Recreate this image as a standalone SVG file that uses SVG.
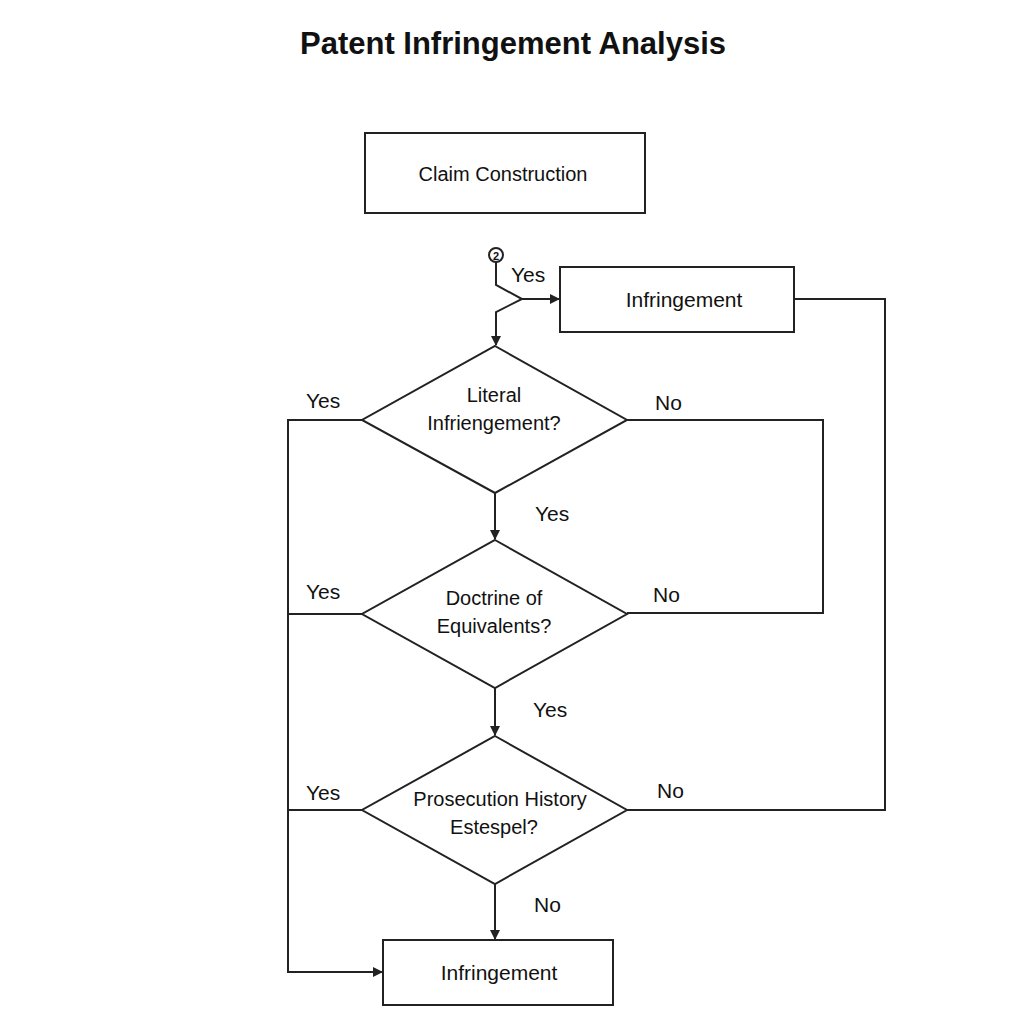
<svg xmlns="http://www.w3.org/2000/svg" width="1024" height="1024" viewBox="0 0 1024 1024">
<style>
text{font-family:"Liberation Sans",Arial,sans-serif;fill:#111;}
.l{font-size:21px}
.n{font-size:20px}
.s{fill:#fff;stroke:#222;stroke-width:2}
.c{fill:none;stroke:#222;stroke-width:2}
</style>
<defs><marker id="a" markerWidth="10" markerHeight="10" refX="9" refY="5" orient="auto" markerUnits="userSpaceOnUse"><path d="M0,0L10,5L0,10z" fill="#222"/></marker></defs>
<rect width="1024" height="1024" fill="#fff"/>
<text x="513" y="54" text-anchor="middle" font-size="31" font-weight="bold">Patent Infringement Analysis</text>
<g id="connectors" class="c">
<circle cx="496" cy="255" r="7"/>
<path d="M496,262V285L522,299L496,312V345" marker-end="url(#a)"/>
<path d="M522,299H559" marker-end="url(#a)"/>
<path d="M495,493V539" marker-end="url(#a)"/>
<path d="M495,688V735" marker-end="url(#a)"/>
<path d="M495,884V939" marker-end="url(#a)"/>
<path d="M362,420H288V972H382" marker-end="url(#a)"/>
<path d="M362,614H288M362,810H288"/>
<path d="M627,420H823V613H627"/>
<path d="M627,810H885V299H794"/>
</g>
<text x="496" y="260" text-anchor="middle" font-size="11" font-weight="bold">2</text>
<g id="claim"><rect class="s" x="365" y="133" width="280" height="80"/><text class="n" x="503" y="181" text-anchor="middle">Claim Construction</text></g>
<g id="inf1"><rect class="s" x="560" y="267" width="234" height="65"/><text class="l" x="684" y="307" text-anchor="middle">Infringement</text></g>
<g id="d1"><polygon class="s" points="495,346 627,420 495,493 362,420"/><text class="n" x="494" y="402" text-anchor="middle">Literal</text><text class="n" x="494" y="430" text-anchor="middle">Infriengement?</text></g>
<g id="d2"><polygon class="s" points="495,540 627,614 495,688 362,614"/><text class="n" x="494" y="605" text-anchor="middle">Doctrine of</text><text class="n" x="494" y="633" text-anchor="middle">Equivalents?</text></g>
<g id="d3"><polygon class="s" points="495,736 627,810 495,884 362,810"/><text class="n" x="500" y="806" text-anchor="middle">Prosecution History</text><text class="n" x="494" y="834" text-anchor="middle">Estespel?</text></g>
<g id="inf2"><rect class="s" x="383" y="940" width="230" height="65"/><text class="l" x="499" y="980" text-anchor="middle">Infringement</text></g>
<g class="l">
<text x="511" y="282">Yes</text>
<text x="306" y="408">Yes</text><text x="655" y="410">No</text>
<text x="535" y="521">Yes</text>
<text x="306" y="599">Yes</text><text x="653" y="602">No</text>
<text x="533" y="717">Yes</text>
<text x="306" y="800">Yes</text><text x="657" y="798">No</text>
<text x="534" y="912">No</text>
</g>
</svg>
